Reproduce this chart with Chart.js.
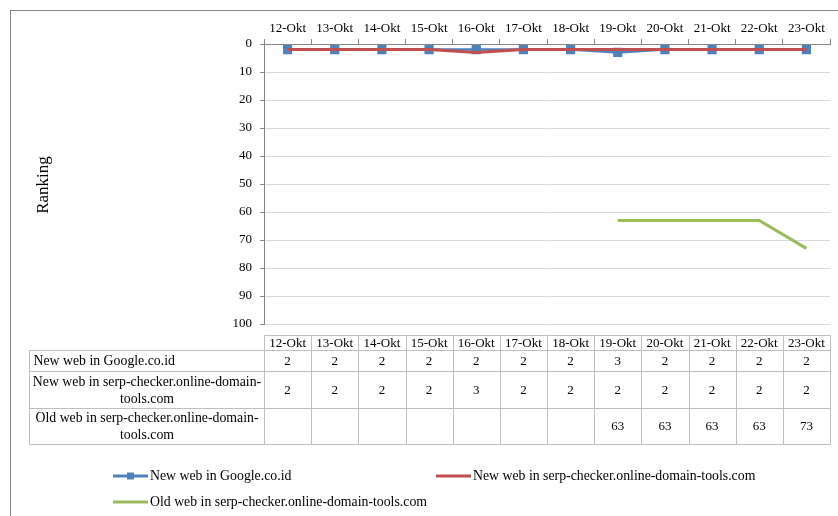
<!DOCTYPE html>
<html>
<head>
<meta charset="utf-8">
<script src="https://cdn.jsdelivr.net/npm/chart.js@4.4.0/dist/chart.umd.min.js"></script>
<style>
  html, body { margin: 0; padding: 0; background: #fff; }
  #wrap { width: 838px; height: 516px; }
</style>
</head>
<body>
<div id="wrap"><canvas id="rankChart" width="838" height="516"></canvas></div>
<script>
// data
const dates = ['12-Okt', '13-Okt', '14-Okt', '15-Okt', '16-Okt', '17-Okt', '18-Okt', '19-Okt', '20-Okt', '21-Okt', '22-Okt', '23-Okt'];
const seriesNames = [
    'New web in Google.co.id',
    'New web in serp-checker.online-domain-tools.com',
    'Old web in serp-checker.online-domain-tools.com'
];
// row labels as they wrap in the data table
const tableLabels = [
    ['New web in Google.co.id'],
    ['New web in serp-checker.online-domain-', 'tools.com'],
    ['Old web in serp-checker.online-domain-', 'tools.com']
];
const googleNew = [2, 2, 2, 2, 2, 2, 2, 3, 2, 2, 2, 2];
const serpNew = [2, 2, 2, 2, 3, 2, 2, 2, 2, 2, 2, 2];
const serpOld = [null, null, null, null, null, null, null, 63, 63, 63, 63, 73];
const axisTitle = 'Ranking';

const colors = ['#4F81BD', '#C0504D', '#9BBB59'];
const FONT = "'Liberation Serif', 'Times New Roman', serif";

// excel-ish extras: outer frame, axis title, data table, legend
const extrasPlugin = {
    id: 'extras',
    afterDraw(chart) {
        const ctx = chart.ctx;
        const x = chart.scales.x;
        const area = chart.chartArea;
        ctx.save();

        // outer frame (right and bottom edges fall outside the picture)
        ctx.strokeStyle = '#868686';
        ctx.lineWidth = 1;
        ctx.strokeRect(10.5, 10.5, 900, 600);

        // axis title
        ctx.save();
        ctx.translate(44, 185);
        ctx.rotate(-Math.PI / 2);
        ctx.font = '17px ' + FONT;
        ctx.fillStyle = '#000';
        ctx.textAlign = 'center';
        ctx.textBaseline = 'middle';
        ctx.fillText(axisTitle, 0, 0);
        ctx.restore();

        // data table
        const rowData = [googleNew, serpNew, serpOld];
        const tableLeft = 29.5;
        const headTop = 335.5;
        const rowEdges = [350.5, 371.5, 408.5, 444.5];
        const n = dates.length;
        const edges = [];
        for (let i = 0; i <= n; i++) {
            if (i === 0) edges.push(area.left);
            else if (i === n) edges.push(area.right);
            else edges.push((x.getPixelForValue(i - 1) + x.getPixelForValue(i)) / 2);
        }
        const px = edges.map(e => Math.round(e) + 0.5);

        ctx.strokeStyle = '#bfbfbf';
        ctx.beginPath();
        ctx.moveTo(px[0], headTop); ctx.lineTo(px[n], headTop);
        rowEdges.forEach(y => {
            ctx.moveTo(tableLeft, y); ctx.lineTo(px[n], y);
        });
        px.forEach(p => {
            ctx.moveTo(p, headTop); ctx.lineTo(p, rowEdges[3]);
        });
        ctx.moveTo(tableLeft, rowEdges[0]); ctx.lineTo(tableLeft, rowEdges[3]);
        ctx.stroke();

        ctx.fillStyle = '#000';
        ctx.textBaseline = 'middle';
        ctx.textAlign = 'center';
        ctx.font = '13px ' + FONT;
        dates.forEach((d, i) => {
            ctx.fillText(d, x.getPixelForValue(i), (headTop + rowEdges[0]) / 2 + 0.5);
        });
        rowData.forEach((vals, r) => {
            const top = rowEdges[r], bot = rowEdges[r + 1];
            const mid = (top + bot) / 2 + 0.5;
            const lines = tableLabels[r];
            ctx.font = '13.8px ' + FONT;
            if (lines.length === 1) {
                ctx.textAlign = 'left';
                ctx.fillText(lines[0], tableLeft + 4, mid);
            } else {
                ctx.textAlign = 'center';
                const labelX = (tableLeft + px[0]) / 2;
                lines.forEach((ln, k) => {
                    ctx.fillText(ln, labelX, mid + (k - (lines.length - 1) / 2) * 17);
                });
            }
            ctx.font = '13px ' + FONT;
            ctx.textAlign = 'center';
            vals.forEach((v, i) => {
                if (v !== null) ctx.fillText(String(v), x.getPixelForValue(i), mid);
            });
        });

        // legend
        const legendItems = [
            { x: 113, y: 476 },
            { x: 436, y: 476 },
            { x: 113, y: 502 }
        ];
        legendItems.forEach((it, i) => {
            ctx.strokeStyle = colors[i];
            ctx.lineWidth = 3;
            ctx.beginPath();
            ctx.moveTo(it.x, it.y);
            ctx.lineTo(it.x + 35, it.y);
            ctx.stroke();
            if (i === 0) {
                ctx.fillStyle = colors[0];
                ctx.fillRect(it.x + 14, it.y - 3.5, 7, 7);
            }
            ctx.fillStyle = '#000';
            ctx.font = '13.8px ' + FONT;
            ctx.textAlign = 'left';
            ctx.textBaseline = 'middle';
            ctx.fillText(seriesNames[i], it.x + 37, it.y);
        });

        ctx.restore();
    }
};

new Chart(document.getElementById('rankChart'), {
    type: 'line',
    data: {
        labels: dates,
        datasets: [
            {
                label: seriesNames[0],
                data: googleNew,
                borderColor: colors[0],
                backgroundColor: colors[0],
                borderWidth: 2.5,
                pointStyle: 'rect',
                pointRadius: 6.5,
                pointBorderWidth: 0,
                order: 1
            },
            {
                label: seriesNames[1],
                data: serpNew,
                borderColor: colors[1],
                backgroundColor: colors[1],
                borderWidth: 3,
                pointRadius: 0,
                order: 0
            },
            {
                label: seriesNames[2],
                data: serpOld,
                borderColor: colors[2],
                backgroundColor: colors[2],
                borderWidth: 3,
                pointRadius: 0,
                spanGaps: false,
                order: 2
            }
        ]
    },
    options: {
        responsive: false,
        animation: false,
        devicePixelRatio: 1,
        layout: { padding: { left: 10, top: 10, right: 8, bottom: 192 } },
        plugins: {
            legend: { display: false },
            tooltip: { enabled: false }
        },
        scales: {
            x: {
                position: 'top',
                offset: true,
                afterFit: s => { s.height = 34; },
                grid: { offset: true, drawOnChartArea: false, tickLength: 5, color: '#868686' },
                border: { color: '#868686' },
                ticks: { color: '#000', font: { family: FONT, size: 13 }, padding: 3, maxRotation: 0, autoSkip: false }
            },
            y: {
                reverse: true,
                min: 0,
                max: 100,
                afterFit: s => { s.width = 254; },
                grid: { color: '#d9d9d9', tickColor: '#868686', tickLength: 4 },
                border: { color: '#868686' },
                ticks: { stepSize: 10, color: '#000', font: { family: FONT, size: 13 }, padding: 8 }
            }
        }
    },
    plugins: [extrasPlugin]
});
</script>
</body>
</html>
